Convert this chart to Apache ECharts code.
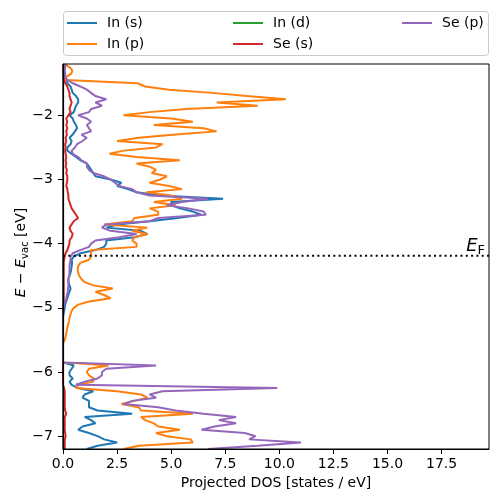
<!DOCTYPE html>
<html><head><meta charset="utf-8">
<script src="https://cdn.jsdelivr.net/npm/echarts@6/dist/echarts.min.js"></script>
<style>html,body{margin:0;padding:0;background:#fff}#c{width:498px;height:502px}</style>
</head><body><div id="c"></div>
<script>
// Energy grid (eV, relative to vacuum), top to bottom
const energies = [
 -1.20,-1.25,-1.30,-1.35,-1.40,-1.45,-1.50,-1.55,-1.60,-1.65,-1.70,-1.75,-1.80,-1.85,-1.90,-1.95,-2.00,
 -2.05,-2.10,-2.15,-2.20,-2.25,-2.30,-2.35,-2.40,-2.45,-2.50,-2.55,-2.60,-2.65,-2.70,-2.75,-2.80,-2.85,-2.90,-2.95,-3.00,
 -3.05,-3.10,-3.15,-3.20,-3.25,-3.30,-3.35,-3.40,-3.45,-3.50,-3.55,-3.60,-3.65,-3.70,-3.75,-3.80,-3.85,-3.90,-3.95,-4.00,
 -4.05,-4.10,-4.15,-4.20,-4.25,-4.30,-4.35,-4.40,-4.45,-4.50,-4.55,-4.60,-4.65,-4.70,-4.75,-4.80,-4.85,-4.90,-4.95,-5.00,
 -5.05,-5.10,-5.15,-5.20,-5.25,-5.30,-5.35,-5.40,-5.45,-5.50,-5.55,-5.60,-5.65,-5.70,-5.75,-5.80,-5.85,-5.90,-5.95,-6.00,
 -6.05,-6.10,-6.15,-6.20,-6.25,-6.30,-6.35,-6.40,-6.45,-6.50,-6.55,-6.60,-6.65,-6.70,-6.75,-6.80,-6.85,-6.90,-6.95,-7.00,
 -7.05,-7.10,-7.15,-7.20
];
const inS = [
 0.05,0.05,0.05,0.05,0.1,0.15,0.2,0.35,0.4,0.45,0.6,0.7,0.7,0.6,0.55,0.5,0.3,
 0.45,0.5,0.6,0.65,0.55,0.45,0.3,0.4,0.35,0.2,0.2,0.4,0.6,0.8,1.1,1.2,1.3,1.4,1.5,2.2,
 2.7,2.5,3.0,3.4,4.5,7.4,5.0,5.0,5.4,6.0,6.4,5.3,4.0,2.5,2.0,3.6,3.9,3.3,2.0,2.0,
 1.9,1.5,0.8,0.5,0.4,0.42,0.4,0.38,0.35,0.3,0.25,0.25,0.3,0.35,0.3,0.25,0.2,0.15,0.1,0.08,
 0.05,0.02,0,0,0,0,0,0,0,0,0,0,0,0,0,0,0,0.5,0.4,0.3,
 0.3,0.45,0.3,0.4,0.7,1.4,1.0,0.9,1.2,1.2,1.2,1.6,3.2,1.0,1.3,1.5,0.9,0.7,1.2,1.6,
 1.9,2.5,1.6,1.1
];
const inP = [
 0.05,0.3,0.43,0.39,0.15,0.1,3.45,3.8,4.9,6.9,8.5,10.3,7.1,9.0,5.7,4.0,2.8,
 5.0,6.0,4.2,6.5,7.1,5.2,3.5,2.5,4.6,4.3,2.8,2.15,3.4,5.4,3.4,4.0,4.3,4.1,4.8,4.5,
 4.0,4.9,5.5,3.85,5.0,5.5,4.2,5.2,4.0,4.4,4.4,3.3,3.2,1.9,3.9,3.2,3.9,3.3,3.2,3.4,
 3.4,1.3,1.3,1.3,1.2,0.8,0.7,0.68,0.7,0.75,0.85,1.0,1.4,2.3,1.5,1.9,2.2,1.2,0.7,0.5,
 0.4,0.35,0.3,0.28,0.25,0.2,0.18,0.15,0.12,0.08,0.0,0,0,0,0,0,0,2.1,1.2,1.1,
 1.2,1.4,1.4,0.7,0.6,2.5,3.6,3.9,3.3,2.7,3.5,3.6,6.0,3.6,3.8,4.2,4.4,5.4,4.3,4.8,
 5.9,6.0,3.5,2.8
];
const inD = [
 0,0,0,0,0,0,0,0,0,0,0,0,0,0,0,0,0,
 0,0,0,0,0,0,0,0,0,0,0,0,0,0,0,0,0,0,0,0,
 0,0,0,0,0,0,0,0,0,0,0,0,0,0,0,0,0,0,0,0,
 0,0,0,0,0,0,0,0,0,0,0,0,0,0,0,0,0,0,0,0,
 0,0,0,0,0,0,0,0,0,0,0,0,0,0,0,0,0,0,0,0,
 0,0,0,0,0,0,0,0,0,0,0,0,0,0,0,0,0,0,0,0,
 0,0,0,0
];
const seS = [
 0.02,0.02,0.02,0.02,0.02,0.05,0.1,0.2,0.25,0.3,0.3,0.35,0.4,0.35,0.3,0.35,0.25,
 0.15,0.2,0.15,0.2,0.15,0.18,0.12,0.15,0.1,0.12,0.1,0.12,0.15,0.12,0.15,0.12,0.18,0.15,0.2,0.2,
 0.18,0.15,0.2,0.22,0.25,0.25,0.3,0.35,0.4,0.5,0.6,0.7,0.5,0.4,0.3,0.35,0.45,0.4,0.3,0.3,
 0.25,0.2,0.12,0.08,0.05,0.03,0.03,0.03,0.03,0.03,0.03,0.03,0.03,0.03,0.03,0.03,0.03,0.03,0.02,0.01,
 0,0,0,0,0,0,0,0,0,0,0,0,0,0,0,0,0,0,0,0,
 0,0,0,0,0.05,0.08,0.08,0.08,0.08,0.08,0.08,0.1,0.15,0.08,0.08,0.08,0.08,0.08,0.1,0.12,
 0.08,0.08,0.08,0.08
];
const seP = [
 0.1,0.1,0.08,0.1,0.1,0.2,0.45,0.8,1.1,1.3,1.5,2.0,1.5,1.8,1.3,1.2,0.7,
 1.1,1.3,1.1,1.2,1.3,0.85,1.1,0.9,0.65,0.55,0.4,0.45,0.7,0.85,1.1,1.1,1.2,1.4,1.9,2.2,
 2.4,2.6,3.2,3.4,4.0,6.7,5.5,4.8,5.8,6.5,6.6,4.4,4.0,2.0,1.8,2.2,3.4,2.6,1.5,1.3,
 1.2,0.8,0.45,0.35,0.35,0.32,0.3,0.3,0.3,0.28,0.25,0.25,0.25,0.23,0.22,0.18,0.15,0.1,0.05,0.02,
 0,0,0,0,0,0,0,0,0,0,0,0,0,0,0,0,0,4.3,2.0,1.8,
 1.8,1.6,1.0,0.6,9.9,4.6,4.0,4.3,3.2,2.8,4.4,5.2,6.5,8.0,7.2,8.0,7.0,6.4,8.4,8.9,
 8.6,11.0,9.0,6.7
];
const seriesNames = ['In (s)', 'In (p)', 'In (d)', 'Se (s)', 'Se (p)'];
const seriesValues = [inS, inP, inD, seS, seP];
const colors = ['#1f77b4', '#ff7f0e', '#2ca02c', '#d62728', '#9467bd'];
const fermiLevel = -4.19;
const xTicks = [0, 2.5, 5, 7.5, 10, 12.5, 15, 17.5];
const yTicks = [-7, -6, -5, -4, -3, -2];
const xMax = 19.69, yMin = -7.2, yMax = -1.2;

const FONT = 'DejaVu Sans';
const chart = echarts.init(document.getElementById('c'), null, {renderer: 'canvas'});

const series = seriesNames.map((name, k) => ({
  name: name,
  type: 'line',
  symbol: 'none',
  showSymbol: false,
  clip: true,
  z: 2,
  color: colors[k],
  lineStyle: {color: colors[k], width: name === 'In (d)' ? 1 : 2},
  data: energies.map((e, i) => [seriesValues[k][i], e])
}));
series.push({
  name: 'EF',
  type: 'line',
  symbol: 'none',
  z: 3,
  lineStyle: {color: '#000', width: 2, type: [2, 3.3]},
  data: [[0, fermiLevel], [xMax, fermiLevel]]
});

const legendCommon = {
  orient: 'vertical', top: 16, itemWidth: 30, itemHeight: 14, itemGap: 7, padding: 0, z: 5,
  icon: 'path://M0,6 L30,6 L30,8 L0,8 Z',
  textStyle: {fontSize: 14, fontFamily: FONT, color: '#000', padding: [0, 0, 0, 5]}
};

chart.setOption({
  animation: false,
  backgroundColor: '#fff',
  textStyle: {fontFamily: FONT},
  grid: {left: 63, right: 9, top: 64, bottom: 53, show: true, zlevel: 1, backgroundColor: 'transparent', borderColor: '#000', borderWidth: 1, outerBoundsMode: 'none'},
  legend: [
    Object.assign({}, legendCommon, {left: 67, data: [seriesNames[0], seriesNames[1]]}),
    Object.assign({}, legendCommon, {left: 233, data: [seriesNames[2], seriesNames[3]]}),
    Object.assign({}, legendCommon, {left: 402, data: [seriesNames[4]]})
  ],
  xAxis: {
    type: 'value', min: 0, max: xMax, zlevel: 1,
    axisLine: {show: true, onZero: false, lineStyle: {color: '#000', width: 1}},
    axisTick: {show: true, length: 5, customValues: xTicks, lineStyle: {color: '#000', width: 1}},
    axisLabel: {customValues: xTicks, formatter: v => v.toFixed(1), color: '#000', fontSize: 14, fontFamily: FONT, margin: 8},
    splitLine: {show: false},
    name: 'Projected DOS [states / eV]', nameLocation: 'middle', nameGap: 27, nameMoveOverlap: false,
    nameTextStyle: {fontSize: 14, color: '#000', fontFamily: FONT}
  },
  yAxis: {
    type: 'value', min: yMin, max: yMax, zlevel: 1,
    axisLine: {show: true, onZero: false, lineStyle: {color: '#000', width: 1.2}},
    axisTick: {show: true, length: 5, customValues: yTicks, lineStyle: {color: '#000', width: 1}},
    axisLabel: {customValues: yTicks, formatter: v => (v < 0 ? '\u2212' : '') + Math.abs(v), color: '#000', fontSize: 14, fontFamily: FONT, margin: 10},
    splitLine: {show: false},
    name: '{i|E} \u2212 {i|E}{s|vac} [eV]', nameLocation: 'middle', nameGap: 33, nameRotate: 90, nameMoveOverlap: false,
    nameTextStyle: {
      fontSize: 14, color: '#000', fontFamily: FONT, padding: [0, 0, 0, 8],
      rich: {
        i: {fontStyle: 'italic', fontSize: 14, fontFamily: FONT, color: '#000', lineHeight: 18},
        s: {fontSize: 10, fontFamily: FONT, color: '#000', lineHeight: 10, verticalAlign: 'bottom'}
      }
    }
  },
  series: series
});

const p = chart.convertToPixel({xAxisIndex: 0, yAxisIndex: 0}, [xMax, fermiLevel]);
chart.setOption({
  graphic: [
    {type: 'rect', id: 'legendBox', z: 0, shape: {x: 63.5, y: 11.5, width: 425, height: 44, r: 3},
     style: {fill: 'rgba(255,255,255,0.8)', stroke: '#cccccc', lineWidth: 1}},
    {type: 'text', id: 'efLabel', z: 20, x: p[0] - 4, y: p[1] + 1,
     style: {text: '{e|E}{f|F}', align: 'right', verticalAlign: 'bottom',
       rich: {
         e: {fontStyle: 'italic', fontSize: 18, fontFamily: FONT, fill: '#000', lineHeight: 22},
         f: {fontSize: 13, fontFamily: FONT, fill: '#000', lineHeight: 13, verticalAlign: 'bottom'}
       }}}
  ]
});
</script>
</body></html>
